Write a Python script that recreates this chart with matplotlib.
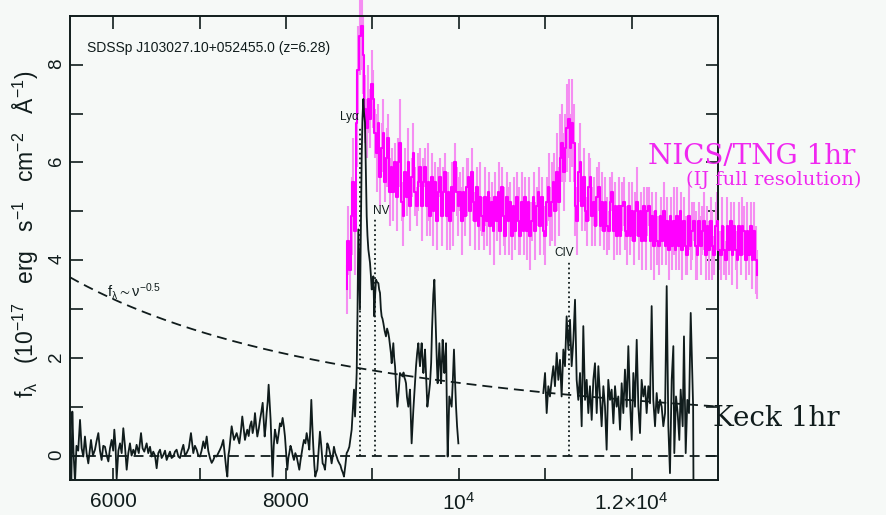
import numpy as np
import matplotlib.pyplot as plt
from matplotlib.ticker import FixedLocator, FixedFormatter

# Keck spectrum, optical part (Angstrom, 1e-17 erg/s/cm2/A)
keck_blue_wave = [5505, 5515, 5527, 5540, 5558, 5575, 5595, 5616, 5635, 5654, 5673, 5692, 5712, 5743,
                  5765, 5789, 5808, 5828, 5847, 5866, 5885, 5905, 5925, 5944, 5963, 5982, 6000, 6013,
                  6027, 6040, 6060, 6079, 6098, 6117, 6136, 6156, 6175, 6194, 6213, 6233, 6252, 6271,
                  6296, 6322, 6340, 6360, 6387, 6406, 6426, 6445, 6464, 6484, 6503, 6522, 6542, 6561,
                  6580, 6600, 6619, 6638, 6657, 6676, 6696, 6715, 6734, 6754, 6773, 6792, 6812, 6831,
                  6850, 6875, 6900, 6927, 6946, 6966, 6985, 7004, 7023, 7043, 7062, 7082, 7100, 7120,
                  7140, 7159, 7178, 7197, 7216, 7236, 7255, 7274, 7294, 7310, 7321, 7333, 7344, 7357,
                  7371, 7385, 7398, 7415, 7429, 7445, 7460, 7478, 7494, 7510, 7525, 7540, 7552, 7568,
                  7583, 7600, 7614, 7628, 7641, 7655, 7668, 7685, 7699, 7715, 7730, 7742, 7753, 7765,
                  7776, 7788, 7799, 7810, 7822, 7833, 7845, 7858, 7872, 7886, 7899, 7915, 7930, 7945,
                  7961, 7975, 7988, 8000, 8015, 8027, 8038, 8052, 8065, 8078, 8092, 8108, 8123, 8138,
                  8154, 8168, 8181, 8195, 8208, 8225, 8239, 8255, 8270, 8282, 8293, 8305, 8316, 8328,
                  8339, 8350, 8362, 8378, 8393, 8408, 8424, 8438, 8451, 8465, 8478, 8490, 8501, 8515,
                  8528, 8542, 8555, 8570, 8586, 8600, 8617, 8630, 8644, 8658, 8671, 8687, 8702, 8717,
                  8733, 8746, 8760, 8775, 8787, 8799, 8808, 8818, 8828, 8837, 8846, 8856, 8866, 8876,
                  8885, 8895, 8904, 8914, 8924, 8934, 8943, 8953, 8962, 8972, 8982, 8992, 9001, 9011,
                  9022, 9032, 9042, 9055, 9069, 9078, 9088, 9098, 9107, 9117, 9127, 9142, 9157, 9170,
                  9184, 9194, 9204, 9214, 9223, 9233, 9242, 9252, 9262, 9275, 9289, 9304, 9319, 9335,
                  9350, 9360, 9370, 9380, 9389, 9400, 9416, 9426, 9435, 9445, 9454, 9464, 9474, 9490,
                  9505, 9518, 9532, 9542, 9551, 9560, 9570, 9580, 9590, 9600, 9609, 9622, 9636, 9650,
                  9667, 9680, 9690, 9697, 9705, 9717, 9727, 9736, 9746, 9755, 9765, 9775, 9784, 9794,
                  9804, 9813, 9823, 9833, 9842, 9852, 9860, 9871, 9880, 9890, 9904, 9917, 9930, 9944,
                  9955, 9968, 9980, 9995]
keck_blue_flux = [0.1, -0.6, 0.9, 0.1, -0.55, 0.2, 0.1, 0.73, 0.15, -0.02, 0.39, 0.05, -0.16, 0.32,
                  0.0, 0.12, 0.3, 0.46, 0.1, -0.09, 0.2, 0.18, 0.0, -0.12, 0.15, 0.32, 0.1, 0.53,
                  0.2, -0.47, 0.1, 0.25, 0.05, 0.56, 0.2, -0.29, 0.05, 0.25, 0.0, 0.12, 0.02, 0.22,
                  0.05, 0.46, 0.15, 0.08, 0.25, 0.05, 0.18, -0.02, 0.08, 0.0, -0.26, 0.05, 0.12, -0.05,
                  0.01, 0.1, -0.09, 0.0, 0.08, -0.05, -0.02, 0.08, 0.12, -0.02, -0.05, 0.1, 0.22, 0.0,
                  0.05, 0.15, 0.46, 0.05, 0.2, 0.12, 0.0, -0.02, 0.1, 0.29, 0.15, 0.39, 0.1, -0.05,
                  -0.15, -0.09, 0.0, -0.02, 0.05, 0.12, 0.2, 0.32, -0.02, -0.3, -0.43, 0.0, 0.12, 0.35,
                  0.6, 0.45, 0.32, 0.4, 0.46, 0.35, 0.25, 0.5, 0.8, 0.55, 0.32, 0.45, 0.53, 0.4,
                  0.6, 0.7, 0.46, 0.6, 0.87, 0.6, 0.39, 0.55, 0.73, 0.9, 1.08, 0.7, 0.39, 0.6,
                  0.87, 1.1, 1.45, 1.1, 0.73, 0.2, -0.43, 0.2, 0.53, 0.4, 0.25, 0.45, 0.66, 0.6,
                  0.77, 0.6, 0.39, 0.1, -0.29, -0.05, 0.05, 0.2, 0.12, 0.0, -0.09, 0.05, -0.02, -0.15,
                  -0.29, -0.1, 0.05, 0.2, 0.32, 0.25, 0.46, 0.3, 0.12, 0.6, 1.14, 0.6, 0.18, -0.2,
                  -0.43, -0.35, -0.29, 0.1, 0.49, 0.2, -0.16, -0.2, -0.29, 0.0, 0.25, 0.2, 0.12, 0.0,
                  -0.16, 0.0, 0.18, 0.05, -0.02, -0.1, -0.16, -0.2, -0.29, -0.35, -0.43, -0.2, 0.05, 0.1,
                  0.18, 0.35, 0.53, 1.0, 1.35, 0.8, 1.2, 1.69, 3.0, 4.63, 3.8, 2.99, 4.5, 6.13,
                  6.9, 7.3, 7.0, 6.82, 5.8, 4.9, 4.5, 4.22, 4.1, 3.95, 3.7, 3.4, 3.5, 3.67,
                  2.85, 3.3, 3.6, 3.55, 3.53, 3.4, 3.33, 3.0, 2.85, 2.8, 2.71, 2.55, 2.44, 2.6,
                  2.51, 2.4, 2.24, 2.1, 1.89, 2.1, 2.3, 2.0, 1.83, 1.4, 1.0, 1.3, 1.69, 1.65,
                  1.62, 1.7, 1.6, 1.55, 1.48, 1.2, 1.0, 1.2, 1.35, 0.8, 0.25, 0.6, 0.94, 1.4,
                  1.83, 2.1, 2.3, 2.0, 1.83, 2.1, 2.3, 2.0, 1.69, 1.9, 2.17, 1.6, 1.0, 1.2,
                  1.48, 1.9, 2.58, 2.9, 3.3, 3.6, 3.0, 2.44, 1.9, 1.48, 1.9, 2.3, 1.9, 1.48,
                  1.9, 2.37, 2.0, 1.69, 2.0, 2.3, 1.2, -0.02, 0.5, 1.21, 1.1, 1.0, 1.5, 2.17,
                  1.6, 1.0, 0.6, 0.25]

# Keck spectrum, red part around CIV
keck_red_wave = [10978, 10998, 11017, 11036, 11055, 11075, 11094, 11113, 11133, 11152, 11171, 11190,
                 11210, 11229, 11248, 11268, 11287, 11306, 11326, 11345, 11364, 11383, 11403, 11422,
                 11441, 11461, 11480, 11499, 11518, 11538, 11557, 11576, 11596, 11615, 11634, 11653,
                 11673, 11692, 11711, 11730, 11750, 11769, 11789, 11808, 11827, 11846, 11866, 11885,
                 11904, 11923, 11943, 11962, 11981, 12001, 12020, 12039, 12059, 12078, 12097, 12116,
                 12136, 12155, 12174, 12194, 12213, 12232, 12251, 12271, 12290, 12309, 12329, 12348,
                 12367, 12387, 12406, 12425, 12444, 12464, 12483, 12494, 12514, 12533, 12552, 12568,
                 12591, 12606, 12626, 12645, 12664, 12684, 12703, 12712, 12716]
keck_red_flux = [1.28, 1.69, 0.87, 1.42, 1.21, 1.55, 1.83, 1.42, 2.1, 1.55, 1.96, 1.21,
                 2.17, 1.83, 2.85, 2.17, 2.78, 1.83, 2.37, 3.19, 1.55, 1.14, 1.69, 0.6,
                 2.65, 1.14, 1.55, 0.87, 1.42, 0.73, 1.55, 1.89, 0.87, 1.83, 1.21, 0.6,
                 1.42, 1.0, 0.12, 1.55, 1.14, 1.35, 0.66, 1.42, 1.0, 1.21, 0.53, 1.48,
                 0.87, 1.76, 1.0, 2.24, 1.14, 0.32, 1.69, 1.0, 2.37, 1.0, 0.46, 1.55,
                 1.21, 1.42, 0.87, 1.42, 1.07, 3.06, 1.14, 0.6, 1.28, 0.87, 1.14, 1.0,
                 0.6, 0.87, 3.47, 0.6, -0.36, 1.55, 2.24, 0.05, 1.21, 0.87, 0.32, 1.35,
                 0.6, 2.44, 0.05, 1.14, 0.87, 2.92, 1.62, 1.0, -0.6]

# NICS/TNG near-IR spectrum with errors
nics_wave = [8702, 8721, 8740, 8760, 8779, 8799, 8818, 8837, 8856, 8876, 8895, 8914, 8934, 8953,
             8972, 8992, 9011, 9030, 9050, 9069, 9088, 9107, 9127, 9146, 9165, 9184, 9204, 9223,
             9242, 9262, 9281, 9300, 9320, 9339, 9358, 9378, 9397, 9416, 9435, 9455, 9474, 9493,
             9513, 9532, 9551, 9571, 9590, 9609, 9629, 9648, 9667, 9687, 9706, 9725, 9745, 9764,
             9783, 9803, 9822, 9841, 9861, 9880, 9899, 9919, 9938, 9957, 9977, 9996, 10015, 10035,
             10054, 10073, 10093, 10112, 10131, 10151, 10170, 10189, 10209, 10228, 10247, 10267,
             10286, 10305, 10325, 10344, 10363, 10383, 10402, 10421, 10441, 10460, 10479, 10499,
             10518, 10537, 10557, 10576, 10595, 10615, 10634, 10653, 10673, 10692, 10711, 10731,
             10750, 10769, 10789, 10808, 10827, 10847, 10866, 10885, 10905, 10924, 10943, 10963,
             10982, 11001, 11021, 11040, 11059, 11079, 11098, 11117, 11137, 11156, 11175, 11195,
             11214, 11233, 11253, 11272, 11291, 11311, 11330, 11349, 11369, 11388, 11407, 11427,
             11446, 11465, 11485, 11504, 11523, 11543, 11562, 11581, 11601, 11620, 11639, 11659,
             11678, 11697, 11717, 11736, 11755, 11775, 11794, 11813, 11833, 11852, 11871, 11891,
             11910, 11929, 11949, 11968, 11987, 12007, 12026, 12045, 12065, 12084, 12103, 12123,
             12142, 12161, 12181, 12200, 12219, 12239, 12258, 12277, 12297, 12316, 12335, 12355,
             12374, 12393, 12413, 12432, 12451, 12471, 12490, 12509, 12529, 12548, 12567, 12587,
             12606, 12625, 12645, 12664, 12683, 12703, 12722, 12741, 12761, 12780, 12799, 12819,
             12838, 12857, 12877, 12896, 12915, 12935, 12954, 12973, 12993, 13012, 13031, 13051,
             13070, 13089, 13109, 13128, 13147, 13167, 13186, 13205, 13225, 13244, 13263, 13283,
             13302, 13321, 13341, 13360, 13379, 13399, 13418, 13437, 13455]
nics_flux = [3.4, 4.4, 3.8, 4.9, 5.6, 4.6, 6.8, 7.9, 8.6, 8.8, 8.2, 7.1, 6.7, 7.3,
             6.9, 7.6, 7.3, 6.6, 6.2, 6.8, 5.7, 6.3, 6.6, 5.6, 6.1, 6.5, 5.4, 5.9,
             5.4, 6.0, 5.3, 6.0, 6.4, 5.2, 4.9, 5.8, 5.3, 6.0, 5.1, 5.7, 6.2, 5.4,
             5.1, 5.6, 5.9, 5.1, 5.6, 5.9, 5.1, 5.6, 4.9, 5.7, 5.0, 5.6, 4.8, 5.4,
             5.7, 4.9, 5.4, 5.8, 4.9, 5.4, 4.8, 5.5, 5.0, 6.0, 5.4, 5.1, 5.4, 4.8,
             5.4, 4.9, 5.5, 5.7, 5.0, 5.8, 5.2, 4.8, 5.5, 4.7, 5.3, 4.9,
             4.6, 5.3, 4.8, 5.4, 4.7, 5.2, 4.6, 5.3, 4.8, 5.4, 4.6, 5.5,
             4.9, 4.5, 5.3, 4.8, 5.2, 4.5, 5.1, 4.6, 5.3, 4.8, 4.5, 5.2,
             4.6, 5.3, 4.6, 5.2, 4.5, 4.8, 5.3, 4.6, 5.1, 5.4, 4.7, 5.3,
             4.6, 4.5, 5.2, 5.5, 4.9, 5.2, 5.6, 5.0, 5.8, 5.2, 6.1, 6.4,
             5.8, 6.3, 6.7, 6.9, 6.3, 6.8, 6.4, 5.1, 4.8, 5.8, 6.0, 5.1,
             5.7, 5.0, 4.8, 5.5, 5.7, 4.9, 5.2, 4.7, 5.3, 5.5, 4.7, 5.2,
             4.6, 5.2, 4.7, 4.6, 5.2, 5.4, 4.6, 5.1, 4.5, 5.1, 4.5, 5.1,
             5.2, 4.6, 4.5, 5.1, 4.5, 5.0, 4.4, 5.0, 5.2, 4.5, 5.0, 4.4,
             5.1, 4.4, 5.0, 5.1, 4.4, 4.9, 4.3, 5.0, 4.4, 4.3, 4.9, 4.4,
             5.0, 4.3, 4.8, 4.2, 4.9, 4.3, 4.8, 4.2, 4.9, 4.3, 5.0, 4.2,
             4.8, 4.3, 4.1, 4.9, 4.3, 4.6, 4.8, 4.3, 4.1, 4.8, 4.3, 4.6,
             4.8, 4.1, 4.7, 4.2, 4.8, 4.3, 4.1, 4.7, 4.8, 4.2, 4.1, 4.7,
             4.2, 4.0, 4.7, 4.2, 4.8, 4.1, 4.7, 4.2, 4.0, 4.7, 4.1, 4.7,
             4.6, 4.0, 4.6, 4.1, 4.7, 4.0, 4.6, 4.0, 3.7]
nics_err = [0.5, 0.7, 0.6, 0.8, 0.9, 0.9, 0.9, 0.9, 0.8, 0.9, 0.8, 0.7, 0.6, 0.7,
            0.6, 0.7, 0.6, 0.5, 0.8, 0.4, 0.6, 0.5, 0.7, 0.4, 0.6, 0.5, 0.7, 0.4,
            0.6, 0.4, 0.7, 0.5, 0.9, 0.4, 0.6, 0.5, 0.4, 0.7, 0.5, 0.4, 0.6, 0.5,
            0.4, 0.6, 0.4, 0.7, 0.5, 0.4, 0.6, 0.8, 0.4, 0.5, 0.7, 0.4, 0.6, 0.5,
            0.4, 0.6, 0.5, 0.4, 0.7, 0.4, 0.6, 0.5, 0.7, 0.4, 0.5, 0.6, 0.4, 0.7,
            0.5, 0.4, 0.6, 0.4, 0.7, 0.5, 0.4, 0.6, 0.4, 0.5, 0.7, 0.4,
            0.4, 0.6, 0.5, 0.4, 0.6, 0.4, 0.7, 0.5, 0.4, 0.6, 0.5, 0.4,
            0.6, 0.4, 0.5, 0.7, 0.4, 0.5, 0.6, 0.4, 0.5, 0.7, 0.4, 0.6,
            0.5, 0.4, 0.6, 0.5, 0.7, 0.4, 0.5, 0.6, 0.4, 0.5, 0.6, 0.4,
            0.5, 0.6, 0.5, 0.7, 0.6, 0.8, 0.6, 0.7, 0.8, 0.7, 0.9, 0.8,
            0.8, 0.7, 0.9, 0.8, 0.7, 0.9, 0.8, 0.6, 0.7, 0.6, 0.8, 0.5,
            0.6, 0.4, 0.5, 0.7, 0.4, 0.6, 0.5, 0.4, 0.6, 0.5, 0.4, 0.6,
            0.4, 0.5, 0.6, 0.4, 0.5, 0.4, 0.6, 0.5, 0.4, 0.6, 0.4, 0.5,
            0.5, 0.4, 0.6, 0.5, 0.4, 0.6, 0.5, 0.4, 0.7, 0.5, 0.4, 0.6,
            0.4, 0.6, 0.5, 0.4, 0.6, 0.5, 0.7, 0.4, 0.5, 0.6, 0.4, 0.5,
            0.6, 0.4, 0.5, 0.6, 0.4, 0.5, 0.7, 0.4, 0.6, 0.5, 0.4, 0.6,
            0.5, 0.6, 0.4, 0.7, 0.5, 0.6, 0.4, 0.7, 0.5, 0.4, 0.6, 0.5,
            0.6, 0.5, 0.4, 0.6, 0.5, 0.7, 0.4, 0.5, 0.6, 0.4, 0.5, 0.6,
            0.5, 0.4, 0.6, 0.5, 0.4, 0.6, 0.5, 0.4, 0.6, 0.5, 0.4, 0.6,
            0.5, 0.4, 0.6, 0.4, 0.5, 0.6, 0.6, 0.7, 0.5]

# emission lines at z=6.28
line_names = ["Ly\u03b1", "NV", "CIV"]
line_waves = [8852, 9027, 11277]
line_tops = [6.75, 4.85, 4.0]

# f_nu ~ nu^-0.5  ->  f_lambda ~ lambda^-1.5, normalised at 5500 A
pl_norm = 3.65
pl_ref = 5500.0
pl_index = -1.5

xtick_pos = [6000, 7000, 8000, 9000, 10000, 11000, 12000]
xtick_lab = ['6000', '', '8000', '', r'$10^4$', '', r'$1.2{\times}10^4$']
ytick_pos = [0, 1, 2, 3, 4, 5, 6, 7, 8]
ytick_lab = ['0', '', '2', '', '4', '', '6', '', '8']

plt.rcParams['font.family'] = 'Liberation Sans'
plt.rcParams['mathtext.fontset'] = 'custom'
plt.rcParams['mathtext.rm'] = 'Liberation Sans'
plt.rcParams['mathtext.it'] = 'Liberation Sans:italic'
plt.rcParams['mathtext.default'] = 'regular'

bg = '#f6f9f7'
ink = '#101c1c'
magenta = '#ff00ff'
fig = plt.figure(figsize=(8.86, 5.15), dpi=100, facecolor=bg)
ax = fig.add_axes([0.079, 0.068, 0.7314, 0.901])
ax.set_facecolor(bg)

# NICS spectrum: error bars + histogram line, not clipped (runs past the frame)
eb = ax.errorbar(nics_wave, nics_flux, yerr=nics_err, fmt='none', ecolor='#f58ef2',
                 elinewidth=1.5, capsize=0, zorder=2)
for c in eb.lines[2]:
    c.set_clip_on(False)
ax.step(nics_wave, nics_flux, where='mid', color=magenta, lw=1.5, clip_on=False, zorder=3)

# Keck spectrum
ax.plot(keck_blue_wave, keck_blue_flux, color=ink, lw=1.3, zorder=4)
ax.plot(keck_red_wave, keck_red_flux, color=ink, lw=1.3, zorder=4)

# power law and zero level
lam = np.linspace(5500, 13000, 300)
ax.plot(lam, pl_norm * (lam / pl_ref) ** pl_index, color=ink, lw=1.3, dashes=(5.5, 3.3), zorder=5)
ax.axhline(0, color=ink, lw=1.3, dashes=(5.5, 3.3), zorder=5)

# line markers
for w, top in zip(line_waves, line_tops):
    ax.plot([w, w], [0, top], color=ink, lw=1.3, ls=':', zorder=5)
ax.text(8840, 6.93, line_names[0], ha='right', va='center', fontsize=8.5, color=ink)
ax.text(9007, 5.0, line_names[1], ha='left', va='center', fontsize=8.5, color=ink)
ax.text(11225, 4.15, line_names[2], ha='center', va='center', fontsize=8.5, color=ink)
ax.text(5930, 3.35, r'$f_\lambda \sim \nu^{-0.5}$', ha='left', va='center', fontsize=10.5, color=ink)

ax.text(0.026, 0.931, 'SDSSp J103027.10+052455.0 (z=6.28)', transform=ax.transAxes,
        ha='left', va='center', fontsize=10, color=ink)

ax.set_xlim(5500, 13000)
ax.set_ylim(-0.5, 9)
ax.xaxis.set_major_locator(FixedLocator(xtick_pos))
ax.xaxis.set_major_formatter(FixedFormatter(xtick_lab))
ax.yaxis.set_major_locator(FixedLocator(ytick_pos))
ax.yaxis.set_major_formatter(FixedFormatter(ytick_lab))
ax.tick_params(direction='in', length=9, width=1.2, color=ink, labelcolor=ink,
               top=True, right=True)
ax.tick_params(axis='x', pad=8.5, labelsize=15)
ax.tick_params(axis='y', pad=3.5, labelsize=13.5, labelrotation=90)
for s in ax.spines.values():
    s.set_linewidth(1.4)
    s.set_color(ink)

ax.set_ylabel('f$_\\lambda$   (10$^{-17}$   erg   s$^{-1}$   cm$^{-2}$   \u00c5$^{-1}$)',
              fontsize=16.5, color=ink)
ax.yaxis.set_label_coords(-0.045, 0.53)

fig.text(648 / 886, 1 - 156 / 515, 'NICS/TNG 1hr', family='DejaVu Serif', fontsize=20,
         color='#f028f0', ha='left', va='center')
fig.text(686 / 886, 1 - 180 / 515, '(IJ full resolution)', family='DejaVu Serif', fontsize=14,
         color='#f028f0', ha='left', va='center')
fig.text(713 / 886, 1 - 419 / 515, 'Keck 1hr', family='DejaVu Serif', fontsize=20,
         color=ink, ha='left', va='center')

fig.savefig('out.png', dpi=100, facecolor=bg)
